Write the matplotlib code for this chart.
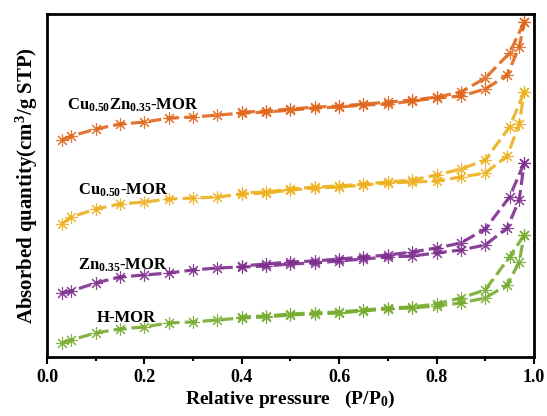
import matplotlib
matplotlib.use("Agg")
import matplotlib.pyplot as plt
from matplotlib.ticker import MultipleLocator

plt.rcParams['font.family'] = 'Liberation Serif'
plt.rcParams['font.weight'] = 'bold'
plt.rcParams['mathtext.fontset'] = 'custom'
plt.rcParams['mathtext.rm'] = 'Liberation Serif:bold'
plt.rcParams['mathtext.it'] = 'Liberation Serif:bold'
plt.rcParams['mathtext.bf'] = 'Liberation Serif:bold'

# relative pressure points
p_ads = [0.03, 0.05, 0.1, 0.15, 0.2, 0.25, 0.3, 0.35, 0.4, 0.45, 0.5, 0.55,
         0.6, 0.65, 0.7, 0.75, 0.8, 0.85, 0.9, 0.945, 0.97, 0.98]
p_des = [0.98, 0.95, 0.9, 0.85, 0.8, 0.75, 0.7, 0.65, 0.6, 0.55, 0.5, 0.45, 0.4]

# absorbed quantity (arbitrary, offset curves)
cuzn_ads = [217, 221, 228, 233, 235, 239, 240, 242, 244, 245, 247, 249, 250, 252,
            253, 256, 259, 261, 268, 282, 310, 335]
cuzn_des = [335, 304, 279, 265, 260, 257, 255, 253, 251, 250, 248, 246, 245]
cu_ads = [133, 140, 148, 153, 155, 158, 159, 160, 163, 164, 167, 169, 170, 172,
          174, 175, 176, 180, 184, 201, 233, 265]
cu_des = [265, 230, 197, 188, 182, 177, 175, 173, 171, 170, 168, 165, 164]
zn_ads = [64, 66, 74, 80, 82, 84, 87, 89, 90, 91, 93, 94, 96, 98, 100, 101, 104,
          107, 112, 129, 157, 194]
zn_des = [194, 160, 128, 114, 109, 105, 102, 100, 98, 96, 95, 93, 91]
h_ads = [14, 17, 24, 28, 30, 34, 35, 37, 39, 40, 42, 43, 44, 46, 48, 49, 51, 54,
         59, 72, 95, 122]
h_des = [122, 100, 67, 59, 53, 50, 49, 47, 45, 44, 43, 41, 40]

labels = ['Cu$_{0.50}$Zn$_{0.35}$-MOR', 'Cu$_{0.50}$-MOR', 'Zn$_{0.35}$-MOR', 'H-MOR']
label_x = [0.041, 0.063, 0.063, 0.103]
label_y = [252, 167, 92, 39]
colors = ['#E0671D', '#EDB120', '#7E2F8E', '#77AC30']

series = [(cuzn_ads, cuzn_des), (cu_ads, cu_des), (zn_ads, zn_des), (h_ads, h_des)]

fig = plt.figure(figsize=(5.47, 4.16), dpi=100)
ax = fig.add_axes([0.086, 0.142, 0.890, 0.824])

for (ads, des), c in zip(series, colors):
    for xs, ys in ((p_ads, ads), (p_des, des)):
        ax.plot(xs, ys, color=c, linestyle=(0, (4, 1.6)), linewidth=2.3,
                marker=(8, 2, 0), markersize=9, markeredgewidth=0.8,
                markerfacecolor='none', markeredgecolor=c, alpha=0.9)

for lab, lx, ly in zip(labels, label_x, label_y):
    ax.text(lx, ly, lab, fontsize=12, fontweight='bold', va='center', ha='left')

ax.set_xlim(0, 1.0)
ax.set_ylim(0, 343)
ax.xaxis.set_major_locator(MultipleLocator(0.2))
ax.xaxis.set_minor_locator(MultipleLocator(0.1))
ax.set_yticks([])
ax.tick_params(axis='x', which='major', direction='out', length=5, width=1.5, labelsize=13)
ax.tick_params(axis='x', which='minor', direction='out', length=3, width=1.5)
for s in ax.spines.values():
    s.set_linewidth(2)
for t in ax.get_xticklabels():
    t.set_fontweight('bold')

ax.set_xlabel('Relative pressure   (P/P$_0$)', fontsize=14, fontweight='bold', labelpad=2)
ax.set_ylabel('Absorbed quantity(cm$^3$/g STP)', fontsize=15, fontweight='bold', labelpad=5)

fig.savefig('out.png', dpi=100)
